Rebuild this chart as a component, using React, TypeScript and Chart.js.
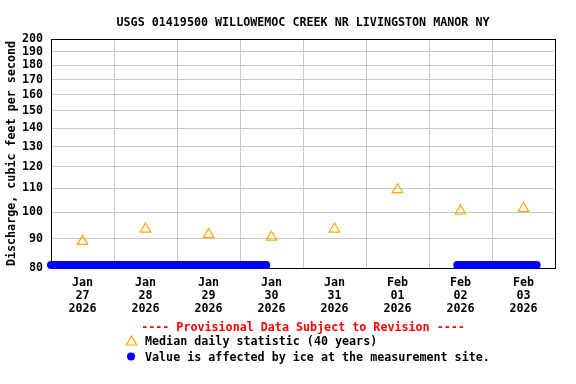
import { useEffect, useRef } from "react";
import { Chart, registerables } from "chart.js";

Chart.register(...registerables);

const TITLE = "USGS 01419500 WILLOWEMOC CREEK NR LIVINGSTON MANOR NY";
const Y_TITLE = "Discharge, cubic feet per second";
const PROVISIONAL = "---- Provisional Data Subject to Revision ----";
const MEDIAN_LABEL = "Median daily statistic (40 years)";
const ICE_LABEL = "Value is affected by ice at the measurement site.";

const dayDates = ["2026-01-27", "2026-01-28", "2026-01-29", "2026-01-30", "2026-01-31", "2026-02-01", "2026-02-02", "2026-02-03"];
const dayMonths = ["Jan", "Jan", "Jan", "Jan", "Jan", "Feb", "Feb", "Feb"];
const dayNumbers = ["27", "28", "29", "30", "31", "01", "02", "03"];
const dayYears = ["2026", "2026", "2026", "2026", "2026", "2026", "2026", "2026"];

const medianValues = [89, 93.5, 91.5, 90.5, 93.5, 109.5, 100.5, 101.5];

const iceStarts = ["2026-01-27T00:00", "2026-02-02T10:45"];
const iceEnds = ["2026-01-30T10:00", "2026-02-03T17:00"];
const iceValue = 81;

const yTicks = [80, 90, 100, 110, 120, 130, 140, 150, 160, 170, 180, 190, 200];
const xStart = "2026-01-27T00:00";
const xEnd = "2026-02-04T00:00";

const FONT_FAMILY = '"DejaVu Sans Mono", "Liberation Mono", monospace';

export default function App() {
  const ref = useRef<HTMLCanvasElement>(null);

  useEffect(() => {
    const canvas = ref.current;
    if (!canvas) return;
    const toMs = (s: string) => Date.parse(`${s}:00Z`);
    const noonTicks = dayDates.map((d) => toMs(`${d}T12:00`));
    const midTicks = [...dayDates.map((d) => toMs(`${d}T00:00`)), toMs(xEnd)];
    const xTickValues = [...midTicks, ...noonTicks].sort((a, b) => a - b);
    const noonSet = new Set(noonTicks);

    const tickFont = { family: FONT_FAMILY, size: 11.7, weight: "bold" as const, lineHeight: "13px" };

    const medianDataset = {
      label: MEDIAN_LABEL,
      data: noonTicks.map((x, i) => ({ x, y: medianValues[i] })),
      pointStyle: "triangle",
      pointRadius: 6,
      pointBorderWidth: 1.2,
      pointBorderColor: "#FFA500",
      pointBackgroundColor: "rgba(0,0,0,0)",
      borderColor: "#FFA500",
      backgroundColor: "rgba(0,0,0,0)",
      showLine: false,
      clip: false as const,
    };

    const iceDatasets = iceStarts.map((s, i) => ({
      label: ICE_LABEL,
      data: [
        { x: toMs(s), y: iceValue },
        { x: toMs(iceEnds[i]), y: iceValue },
      ],
      showLine: true,
      borderColor: "#0000FF",
      backgroundColor: "#0000FF",
      borderWidth: 8,
      borderCapStyle: "round" as const,
      pointRadius: 0,
      clip: false as const,
    }));

    const decor = {
      id: "decor",
      beforeDraw(chart: any) {
        const ctx = chart.ctx;
        ctx.save();
        ctx.fillStyle = "#ffffff";
        ctx.fillRect(0, 0, chart.width, chart.height);
        ctx.restore();
      },
      beforeDatasetsDraw(chart: any) {
        const { ctx, chartArea: a } = chart;
        ctx.save();
        ctx.strokeStyle = "#000000";
        ctx.lineWidth = 1;
        ctx.strokeRect(Math.round(a.left) + 0.5, Math.round(a.top) + 0.5, Math.round(a.right - a.left), Math.round(a.bottom - a.top));
        ctx.restore();
      },
      afterDraw(chart: any) {
        const { ctx, chartArea: a } = chart;
        const font = `bold 11.7px ${FONT_FAMILY}`;
        ctx.save();
        ctx.font = font;
        ctx.fillStyle = "#000000";
        ctx.textAlign = "center";
        ctx.textBaseline = "alphabetic";
        const cx = (a.left + a.right) / 2;
        ctx.fillText(TITLE, cx, 25.5);

        // y axis title
        ctx.save();
        ctx.translate(15, (a.top + a.bottom) / 2);
        ctx.rotate(-Math.PI / 2);
        ctx.fillText(Y_TITLE, 0, 0);
        ctx.restore();

        // provisional
        ctx.fillStyle = "#FF0000";
        ctx.fillText(PROVISIONAL, cx, 330.7);

        // legend
        ctx.textAlign = "left";
        ctx.fillStyle = "#000000";
        ctx.fillText(MEDIAN_LABEL, 145, 345);
        ctx.fillText(ICE_LABEL, 145, 361);

        // triangle marker
        const tx = 131.5, ty = 342, r = 6;
        ctx.beginPath();
        let rad = 0;
        ctx.moveTo(tx + Math.sin(rad) * r, ty - Math.cos(rad) * r);
        rad += (2 * Math.PI) / 3;
        ctx.lineTo(tx + Math.sin(rad) * r, ty - Math.cos(rad) * r);
        rad += (2 * Math.PI) / 3;
        ctx.lineTo(tx + Math.sin(rad) * r, ty - Math.cos(rad) * r);
        ctx.closePath();
        ctx.strokeStyle = "#FFA500";
        ctx.lineWidth = 1.2;
        ctx.stroke();

        // ice dot
        ctx.beginPath();
        ctx.arc(131, 356.5, 4, 0, Math.PI * 2);
        ctx.fillStyle = "#0000FF";
        ctx.fill();
        ctx.restore();
      },
    };

    const chart = new Chart(canvas, {
      type: "scatter",
      data: { datasets: [medianDataset, ...iceDatasets] as any },
      options: {
        responsive: false,
        animation: false,
        devicePixelRatio: 1,
        layout: { padding: { top: 39, right: 21, left: 0, bottom: 0 } },
        plugins: {
          legend: { display: false },
          tooltip: { enabled: false },
          title: { display: false },
        },
        scales: {
          x: {
            type: "linear",
            min: toMs(xStart),
            max: toMs(xEnd),
            afterBuildTicks: (s: any) => {
              s.ticks = xTickValues.map((v) => ({ value: v }));
            },
            afterFit: (s: any) => {
              s.height = 116;
            },
            grid: {
              color: (c: any) => (c.tick && noonSet.has(c.tick.value) ? "rgba(0,0,0,0)" : "#c8c8c8"),
              drawTicks: false,
              lineWidth: 1,
            },
            border: { display: false },
            ticks: {
              autoSkip: false,
              maxRotation: 0,
              minRotation: 0,
              padding: 8,
              color: "#000000",
              font: tickFont,
              callback: (v: any) => {
                const i = noonTicks.indexOf(Number(v));
                return i < 0 ? "" : [dayMonths[i], dayNumbers[i], dayYears[i]];
              },
            },
          },
          y: {
            type: "logarithmic",
            min: 80,
            max: 200,
            afterBuildTicks: (s: any) => {
              s.ticks = yTicks.map((v) => ({ value: v }));
            },
            afterFit: (s: any) => {
              s.width = 51;
            },
            grid: { color: "#c8c8c8", drawTicks: false, lineWidth: 1 },
            border: { display: false },
            ticks: {
              autoSkip: false,
              padding: 8,
              color: "#000000",
              font: tickFont,
              callback: (v: any) => String(v),
            },
          },
        },
      } as any,
      plugins: [decor],
    });

    return () => chart.destroy();
  }, []);

  return (
    <div style={{ position: "absolute", left: 0, top: 0, width: 576, height: 384 }}>
      <canvas ref={ref} width={576} height={384} style={{ display: "block" }} />
    </div>
  );
}
